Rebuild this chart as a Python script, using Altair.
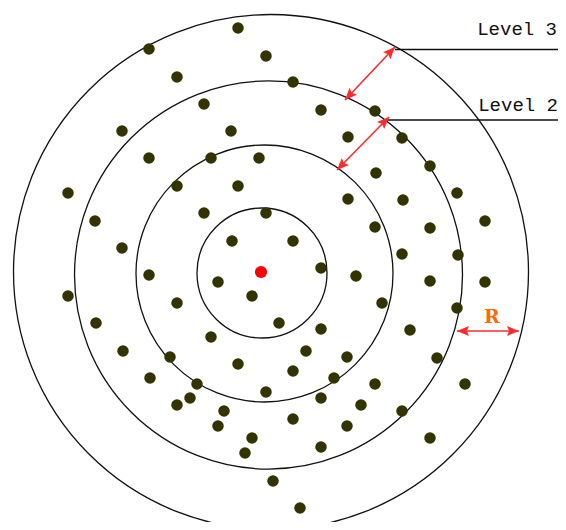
import math
import altair as alt
import pandas as pd

# ---- data (pixel-like coordinates, y downward) ----
dot_x = [238, 149, 266, 177, 293, 204, 321, 375, 122, 231, 348, 402, 149, 211, 259,
         430, 376, 177, 238, 68, 457, 348, 403, 204, 266, 95, 485, 375, 430, 232, 293,
         122, 402, 458, 321, 149, 356, 430, 485, 218, 252, 68, 177, 382, 457, 279, 96,
         321, 410, 211, 123, 306, 170, 347, 437, 238, 293, 150, 334, 197, 375, 465, 266,
         190, 321, 177, 361, 224, 402, 218, 347, 293, 252, 430, 321, 245, 273, 300]
dot_y = [28, 49, 56, 77, 82, 104, 110, 111, 131, 131, 137, 138, 158, 158, 158,
         166, 173, 186, 186, 193, 193, 199, 200, 213, 213, 221, 221, 227, 228, 241, 241,
         248, 254, 255, 268, 275, 276, 281, 282, 282, 296, 296, 303, 303, 308, 323, 323,
         329, 330, 337, 351, 351, 357, 357, 358, 364, 371, 378, 378, 384, 384, 384, 392,
         398, 398, 405, 405, 411, 411, 426, 426, 419, 438, 438, 447, 453, 481, 508]

center_x = [261]
center_y = [272]

ring_cx = [262, 264.5, 268.5, 271]
ring_cy = [273, 273.5, 275, 272]
ring_r = [65, 128.5, 194, 257.5]

level_labels = ["Level 3", "Level 2"]
level_line_x = [395, 383]
level_line_x2 = [566, 566]
level_line_y = [49.5, 120]
level_text_x = [557, 558]
level_text_y = [35, 111]

arrow_x1 = [345, 337, 457]
arrow_y1 = [100, 170, 331]
arrow_x2 = [395, 389, 519]
arrow_y2 = [47, 117, 331]

r_label = ["R"]
r_label_x = [492]
r_label_y = [323]

# ---- scales (1 data unit = 1 pixel of the picture) ----
XS = alt.Scale(domain=[8, 558], nice=False, zero=False)
YS = alt.Scale(domain=[8, 522], nice=False, zero=False, reverse=True)


def X(f):
    return alt.X(f, type="quantitative", scale=XS, axis=None)


def Y(f):
    return alt.Y(f, type="quantitative", scale=YS, axis=None)


rings = pd.DataFrame({"x": ring_cx, "y": ring_cy, "r": ring_r})
rings["s"] = (2 * rings["r"]) ** 2

dots = pd.DataFrame({"x": dot_x, "y": dot_y})
center = pd.DataFrame({"x": center_x, "y": center_y})

levels = pd.DataFrame({"x": level_line_x, "x2": level_line_x2, "y": level_line_y,
                       "tx": level_text_x, "ty": level_text_y, "label": level_labels})

arrows = pd.DataFrame({"x1": arrow_x1, "y1": arrow_y1, "x2": arrow_x2, "y2": arrow_y2})
heads = []
for a, b, c, d in zip(arrow_x1, arrow_y1, arrow_x2, arrow_y2):
    ang = math.degrees(math.atan2(c - a, -(d - b)))
    heads.append({"x": c, "y": d, "ang": ang % 360})
    heads.append({"x": a, "y": b, "ang": (ang + 180) % 360})
heads = pd.DataFrame(heads)

rlab = pd.DataFrame({"x": r_label_x, "y": r_label_y, "t": r_label})

ring_layer = alt.Chart(rings).mark_point(
    shape="circle", filled=False, stroke="#111111", strokeWidth=1.3, opacity=1
).encode(x=X("x"), y=Y("y"), size=alt.Size("s:Q", scale=None, legend=None))

level_lines = alt.Chart(levels).mark_rule(color="#111111", strokeWidth=1.3).encode(
    x=X("x"), x2="x2", y=Y("y"))

level_text = alt.Chart(levels).mark_text(
    align="right", baseline="alphabetic", font="Liberation Mono", fontSize=19,
    color="#111111"
).encode(x=X("tx"), y=Y("ty"), text="label:N")

shafts = alt.Chart(arrows).mark_rule(color="#ff2a2a", strokeWidth=1.6).encode(
    x=X("x1"), y=Y("y1"), x2="x2", y2="y2")

head_layer = alt.Chart(heads).mark_point(
    shape="M0,0L-0.42,1L0,0.82L0.42,1Z", filled=True, color="#ff2a2a",
    size=576, opacity=1, strokeWidth=0
).encode(x=X("x"), y=Y("y"), angle=alt.Angle("ang:Q", scale=None))

dot_layer = alt.Chart(dots).mark_circle(color="#333300", size=132, opacity=1).encode(
    x=X("x"), y=Y("y"))

center_layer = alt.Chart(center).mark_circle(color="#ff0000", size=150, opacity=1).encode(
    x=X("x"), y=Y("y"))

r_text = alt.Chart(rlab).mark_text(
    align="center", baseline="alphabetic", font="DejaVu Serif", fontSize=19,
    fontWeight="bold", color="#ff6a00"
).encode(x=X("x"), y=Y("y"), text="t:N")

chart = alt.layer(
    ring_layer, level_lines, shafts, head_layer, dot_layer, center_layer,
    level_text, r_text
).properties(
    width=550, height=514, padding=0, autosize=alt.AutoSizeParams(type="none")
).configure_view(stroke=None)

chart.save("out.html", embed_options={"renderer": "svg", "actions": False})
